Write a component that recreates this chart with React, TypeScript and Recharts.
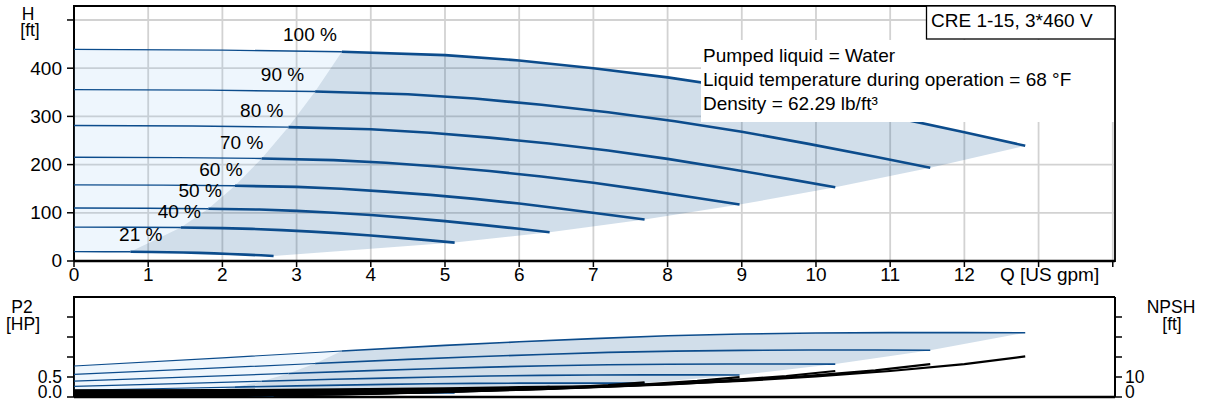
import React from 'react';
import { ComposedChart, XAxis, YAxis, CartesianGrid, Scatter } from 'recharts';

const FONT = '"Liberation Sans", Arial, Helvetica, sans-serif';
const BLUE = '#0c4c8c';
const GRID = '#d2d2d2';

// ---------- data ----------
const speedLabels = ['100 %', '90 %', '80 %', '70 %', '60 %', '50 %', '40 %', '21 %'];

const flow100 = [0, 2, 3.61, 5, 6, 7, 8, 9, 10, 11, 12, 12.82];
const head100 = [439, 437.5, 434, 427, 416, 400, 381, 358, 331, 300, 267, 239];
const p2_100 = [0.775, 0.98, 1.15, 1.29, 1.38, 1.46, 1.53, 1.575, 1.6, 1.61, 1.61, 1.605];
const npsh100 = [3.3, 3.4, 3.8, 4.3, 4.9, 5.3, 6.4, 8.0, 10.3, 13.0, 16.4, 20.3];

const flow90 = [0, 1.8, 3.25, 4.5, 5.4, 6.3, 7.2, 8.1, 9, 9.9, 10.8, 11.54];
const head90 = [355.6, 354.4, 351.5, 345.9, 337, 324, 308.6, 290, 268.1, 243, 216.3, 193.6];
const p2_90 = [0.565, 0.714, 0.838, 0.94, 1.006, 1.064, 1.115, 1.148, 1.166, 1.174, 1.174, 1.17];
const npsh90 = [2.67, 2.75, 3.08, 3.48, 3.97, 4.29, 5.18, 6.48, 8.34, 10.53, 13.28, 16.44];

const flow80 = [0, 1.6, 2.89, 4, 4.8, 5.6, 6.4, 7.2, 8, 8.8, 9.6, 10.26];
const head80 = [281, 280, 277.8, 273.3, 266.2, 256, 243.8, 229.1, 211.8, 192, 170.9, 153];
const p2_80 = [0.397, 0.502, 0.589, 0.66, 0.707, 0.748, 0.783, 0.806, 0.819, 0.824, 0.824, 0.822];
const npsh80 = [2.11, 2.18, 2.43, 2.75, 3.14, 3.39, 4.1, 5.12, 6.59, 8.32, 10.5, 12.99];

const flow70 = [0, 1.4, 2.53, 3.5, 4.2, 4.9, 5.6, 6.3, 7, 7.7, 8.4, 8.97];
const head70 = [215.1, 214.4, 212.7, 209.2, 203.8, 196, 186.7, 175.4, 162.2, 147, 130.8, 117.1];
const p2_70 = [0.266, 0.336, 0.394, 0.442, 0.473, 0.501, 0.525, 0.54, 0.549, 0.552, 0.552, 0.551];
const npsh70 = [1.62, 1.67, 1.86, 2.11, 2.4, 2.6, 3.14, 3.92, 5.05, 6.37, 8.04, 9.95];

const flow60 = [0, 1.2, 2.17, 3, 3.6, 4.2, 4.8, 5.4, 6, 6.6, 7.2, 7.69];
const head60 = [158, 157.5, 156.2, 153.7, 149.8, 144, 137.2, 128.9, 119.2, 108, 96.1, 86];
const p2_60 = [0.167, 0.212, 0.248, 0.279, 0.298, 0.315, 0.33, 0.34, 0.346, 0.348, 0.348, 0.347];
const npsh60 = [1.19, 1.22, 1.37, 1.55, 1.76, 1.91, 2.3, 2.88, 3.71, 4.68, 5.9, 7.31];

const flow50 = [0, 1, 1.81, 2.5, 3, 3.5, 4, 4.5, 5, 5.5, 6, 6.41];
const head50 = [109.8, 109.4, 108.5, 106.8, 104, 100, 95.3, 89.5, 82.8, 75, 66.8, 59.8];
const p2_50 = [0.097, 0.123, 0.144, 0.161, 0.173, 0.183, 0.191, 0.197, 0.2, 0.201, 0.201, 0.201];
const npsh50 = [0.83, 0.85, 0.95, 1.08, 1.23, 1.33, 1.6, 2.0, 2.58, 3.25, 4.1, 5.08];

const flow40 = [0, 0.8, 1.44, 2, 2.4, 2.8, 3.2, 3.6, 4, 4.4, 4.8, 5.13];
const head40 = [70.2, 70, 69.4, 68.3, 66.6, 64, 61, 57.3, 53, 48, 42.7, 38.2];
const p2_40 = [0.05, 0.063, 0.074, 0.083, 0.088, 0.093, 0.098, 0.101, 0.102, 0.103, 0.103, 0.103];
const npsh40 = [0.53, 0.54, 0.61, 0.69, 0.78, 0.85, 1.02, 1.28, 1.65, 2.08, 2.62, 3.25];

const flow21 = [0, 0.42, 0.76, 1.05, 1.26, 1.47, 1.68, 1.89, 2.1, 2.31, 2.52, 2.69];
const head21 = [19.4, 19.3, 19.1, 18.8, 18.3, 17.6, 16.8, 15.8, 14.6, 13.2, 11.8, 10.5];
const p2_21 = [0.0072, 0.0091, 0.0106, 0.0119, 0.0128, 0.0135, 0.0142, 0.0146, 0.0148, 0.0149, 0.0149, 0.0149];
const npsh21 = [0.146, 0.15, 0.168, 0.19, 0.216, 0.234, 0.282, 0.353, 0.454, 0.573, 0.723, 0.895];

const labelQ = [3.18, 2.81, 2.53, 2.26, 1.98, 1.7, 1.42, 0.9];
const labelH = [471, 388, 313, 247, 191, 146, 104, 55];

const xTicks = [0, 1, 2, 3, 4, 5, 6, 7, 8, 9, 10, 11, 12, 13, 14];
const hTicks = [0, 100, 200, 300, 400, 500];
const pTicks = [0, 0.5, 1, 1.5, 2];
const nTicks = [0, 10, 20, 30, 40];

// index where each curve enters the operating (shaded) range
const SPLIT = 2;

// ---------- build series ----------
type Pt = { x: number; y: number; t?: string };
const toPts = (xs: number[], ys: number[]): Pt[] => xs.map((x, i) => ({ x, y: ys[i] }));

const flows = [flow100, flow90, flow80, flow70, flow60, flow50, flow40, flow21];
const heads = [head100, head90, head80, head70, head60, head50, head40, head21];
const powers = [p2_100, p2_90, p2_80, p2_70, p2_60, p2_50, p2_40, p2_21];
const npshs = [npsh100, npsh90, npsh80, npsh70, npsh60, npsh50, npsh40, npsh21];

const headCurves = flows.map((f, i) => toPts(f, heads[i]));
const powerCurves = flows.map((f, i) => toPts(f, powers[i]));
const npshCurves = flows.map((f, i) => toPts(f, npshs[i]));
const labelPts: Pt[] = labelQ.map((x, i) => ({ x, y: labelH[i], t: speedLabels[i] }));

function regions(curves: Pt[][]) {
  const top = curves[0];
  const bottom = curves[curves.length - 1];
  const splitsUp = [...curves].reverse().map((c) => c[SPLIT]);
  const endsDown = curves.map((c) => c[c.length - 1]);
  const dark = [
    ...splitsUp,
    ...top.slice(SPLIT + 1),
    ...endsDown.slice(1),
    ...bottom.slice(SPLIT + 1, bottom.length - 1).reverse(),
  ];
  const light = [...bottom.slice(0, SPLIT + 1), ...splitsUp.slice(1), ...top.slice(0, SPLIT + 1).reverse()];
  return { dark, light };
}
const headRegions = regions(headCurves);
const powerRegions = regions(powerCurves);

// ---------- render helpers ----------
const pathD = (pts: { x: number; y: number }[], close: boolean) =>
  (pts || [])
    .filter((p) => Number.isFinite(p.x) && Number.isFinite(p.y))
    .map((p, i) => `${i ? 'L' : 'M'}${p.x.toFixed(2)},${p.y.toFixed(2)}`)
    .join('') + (close ? 'Z' : '');

const fillLine = (color: string, opacity: number) => (p: any) =>
  <path d={pathD(p.points, true)} fill={color} fillOpacity={opacity} stroke="none" />;
const strokeLine = (color: string, w: number) => (p: any) =>
  <path d={pathD(p.points, false)} fill="none" stroke={color} strokeWidth={w} strokeLinejoin="round" strokeLinecap="butt" />;
const NoDot = () => <g />;
const LabelShape = (p: any) => (
  <text x={p.cx} y={p.cy} dy="0.35em" textAnchor="middle" fontSize={19} fontFamily={FONT} fill="#000">
    {p.payload && p.payload.t}
  </text>
);

const XTick = (p: any) => {
  const v = p.payload.value;
  const label = v === 13 ? 'Q [US gpm]' : v === 14 ? '' : String(v);
  return (
    <text x={p.x + (v === 13 ? 11 : 0)} y={p.y} dy="0.72em" textAnchor="middle" fontSize={19} fontFamily={FONT} fill="#000">
      {label}
    </text>
  );
};
const makeYTick = (fmt: (v: number) => string, zeroShift: number, size: number) => (p: any) => {
  const v = p.payload.value;
  return (
    <text x={p.x} y={p.y + (v === 0 ? zeroShift : 0)} dy="0.35em" textAnchor={p.textAnchor} fontSize={size} fontFamily={FONT} fill="#000">
      {fmt(v)}
    </text>
  );
};
const hTick = makeYTick((v) => (v === 500 ? '' : String(v)), -1, 19);
const pTick = makeYTick((v) => (v === 0 ? '0.0' : v === 0.5 ? '0.5' : ''), -5, 17.5);
const nTick = makeYTick((v) => (v === 0 ? '0' : v === 10 ? '10' : ''), -5, 17.5);

const XDOM: [number, number] = [0, 14.03];

export default function App() {
  return (
    <div style={{ position: 'fixed', left: 0, top: 0, width: 1206, height: 402, background: '#fff', overflow: 'hidden' }}>
      <div style={{ position: 'absolute', left: 0, top: 0 }}>
        <ComposedChart width={1206} height={292} margin={{ top: 6, right: 91, bottom: 1, left: 14 }}>
          <CartesianGrid stroke={GRID} strokeWidth={1.8} />
          <XAxis
            type="number"
            dataKey="x"
            domain={XDOM}
            allowDataOverflow
            ticks={xTicks}
            interval={0}
            height={30}
            tickSize={6}
            tickMargin={0}
            axisLine={{ stroke: '#000', strokeWidth: 2.6 }}
            tickLine={{ stroke: '#000', strokeWidth: 1.5 }}
            tick={XTick}
          />
          <YAxis
            type="number"
            dataKey="y"
            domain={[0, 529]}
            allowDataOverflow
            ticks={hTicks}
            interval={0}
            width={60}
            tickSize={7}
            tickMargin={5}
            axisLine={{ stroke: '#000', strokeWidth: 2 }}
            tickLine={{ stroke: '#000', strokeWidth: 1.5 }}
            tick={hTick}
          />
          <Scatter data={headRegions.light} line={fillLine('#8ec3f2', 0.15)} lineType="joint" shape={NoDot} isAnimationActive={false} />
          <Scatter data={headRegions.dark} line={fillLine('#1a5a96', 0.2)} lineType="joint" shape={NoDot} isAnimationActive={false} />
          {headCurves.map((c, i) => (
            <Scatter key={'ht' + i} data={c.slice(0, SPLIT + 1)} line={strokeLine(BLUE, 1.4)} lineType="joint" shape={NoDot} isAnimationActive={false} />
          ))}
          {headCurves.map((c, i) => (
            <Scatter key={'hk' + i} data={c.slice(SPLIT)} line={strokeLine(BLUE, 2.6)} lineType="joint" shape={NoDot} isAnimationActive={false} />
          ))}
          <Scatter data={labelPts} shape={LabelShape} isAnimationActive={false} />
        </ComposedChart>
      </div>
      <div style={{ position: 'absolute', left: 0, top: 285 }}>
        <ComposedChart width={1206} height={117} margin={{ top: 12, right: 31, bottom: 0, left: 14 }}>
          <CartesianGrid stroke={GRID} strokeWidth={1.8} />
          <XAxis
            type="number"
            dataKey="x"
            domain={XDOM}
            allowDataOverflow
            ticks={xTicks}
            interval={0}
            height={5}
            tick={false}
            tickLine={false}
            axisLine={{ stroke: '#000', strokeWidth: 2.6 }}
          />
          <YAxis
            yAxisId="p"
            type="number"
            dataKey="y"
            domain={[0, 2.5]}
            allowDataOverflow
            ticks={pTicks}
            interval={0}
            width={60}
            tickSize={7}
            tickMargin={5}
            axisLine={{ stroke: '#000', strokeWidth: 2 }}
            tickLine={{ stroke: '#000', strokeWidth: 1.5 }}
            tick={pTick}
          />
          <YAxis
            yAxisId="n"
            orientation="right"
            type="number"
            dataKey="y"
            domain={[0, 50]}
            allowDataOverflow
            ticks={nTicks}
            interval={0}
            width={60}
            tickSize={7}
            tickMargin={3}
            axisLine={{ stroke: '#000', strokeWidth: 2 }}
            tickLine={{ stroke: '#000', strokeWidth: 1.5 }}
            tick={nTick}
          />
          <Scatter yAxisId="p" data={powerRegions.light} line={fillLine('#8ec3f2', 0.15)} lineType="joint" shape={NoDot} isAnimationActive={false} />
          <Scatter yAxisId="p" data={powerRegions.dark} line={fillLine('#1a5a96', 0.2)} lineType="joint" shape={NoDot} isAnimationActive={false} />
          {powerCurves.map((c, i) => (
            <Scatter key={'pt' + i} yAxisId="p" data={c.slice(0, SPLIT + 1)} line={strokeLine(BLUE, 1.2)} lineType="joint" shape={NoDot} isAnimationActive={false} />
          ))}
          {powerCurves.map((c, i) => (
            <Scatter key={'pk' + i} yAxisId="p" data={c.slice(SPLIT)} line={strokeLine(BLUE, 1.6)} lineType="joint" shape={NoDot} isAnimationActive={false} />
          ))}
          {npshCurves.map((c, i) => (
            <Scatter key={'n' + i} yAxisId="n" data={c} line={strokeLine('#000', 2.2)} lineType="joint" shape={NoDot} isAnimationActive={false} />
          ))}
        </ComposedChart>
      </div>
      <svg width={1206} height={402} style={{ position: 'absolute', left: 0, top: 0, pointerEvents: 'none' }} fontFamily={FONT} fontSize={19}>
        {/* frame of the head chart */}
        <line x1={73} y1={6} x2={1115} y2={6} stroke="#000" strokeWidth={1.8} />
        <line x1={1115} y1={6} x2={1115} y2={262} stroke="#000" strokeWidth={1.8} />
        {/* frame of the power chart */}
        <line x1={73} y1={297} x2={1115} y2={297} stroke="#000" strokeWidth={1.8} />
        {/* info box */}
        <rect x={701} y={40} width={413} height={82} fill="#fff" />
        <text x={703} y={61.5}>Pumped liquid = Water</text>
        <text x={703} y={85.5}>Liquid temperature during operation = 68 °F</text>
        <text x={703} y={109.5}>Density = 62.29 lb/ft³</text>
        <rect x={926.5} y={6} width={188.5} height={33} fill="#fff" stroke="#000" strokeWidth={1.3} />
        <text x={931} y={26.5}>CRE 1-15, 3*460 V</text>
        {/* axis titles */}
        <g fontSize={17.5}>
          <text x={28} y={20} textAnchor="middle">H</text>
          <text x={30} y={36} textAnchor="middle">[ft]</text>
          <text x={22} y={313} textAnchor="middle">P2</text>
          <text x={23} y={330} textAnchor="middle">[HP]</text>
          <text x={1171} y={313} textAnchor="middle">NPSH</text>
          <text x={1172} y={330} textAnchor="middle">[ft]</text>
        </g>
      </svg>
    </div>
  );
}
